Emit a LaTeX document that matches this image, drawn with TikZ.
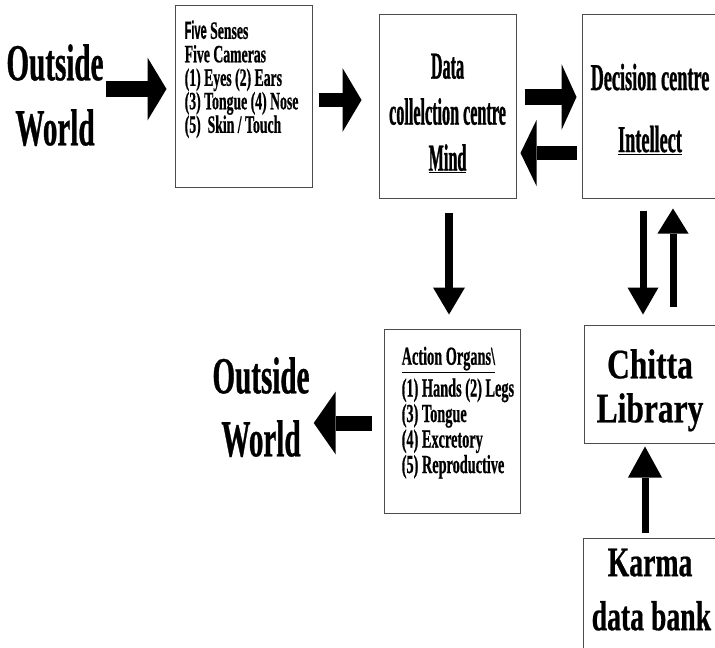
\documentclass[tikz,border=0pt]{standalone}
\usepackage{fontspec}
\setmainfont{Liberation Serif}
\newfontfamily\worldfont[FakeStretch=0.56, FakeBold=0.6]{Liberation Serif}
\newfontfamily\listfont[FakeStretch=0.55, FakeBold=0.6]{Liberation Serif}
\newfontfamily\listsans[FakeStretch=0.44, FakeBold=0.6]{Liberation Sans}
\newfontfamily\centrefont[FakeStretch=0.425, FakeBold=0.8]{Liberation Serif}
\newfontfamily\decisionfont[FakeStretch=0.48, FakeBold=0.8]{Liberation Serif}
\newfontfamily\chittafont[FakeStretch=0.75, FakeBold=0.5]{Liberation Serif}
\newfontfamily\karmafont[FakeStretch=0.66, FakeBold=0.5]{Liberation Serif}
\usetikzlibrary{positioning, arrows.meta, calc}
\tikzstyle{panel} = [rectangle, draw=black!70, line width=1pt, inner sep=0pt]
\tikzstyle{worldtext} = [inner sep=0pt, align=center, anchor=north, font=\worldfont\bfseries\fontsize{52}{65}\selectfont]
\tikzstyle{listtext} = [inner sep=0pt, align=left, font=\listfont\bfseries\fontsize{25}{23.5}\selectfont]
\tikzstyle{organtext} = [inner sep=0pt, align=left, font=\listfont\bfseries\fontsize{26}{25.5}\selectfont]
\tikzstyle{centretext} = [inner sep=0pt, align=center, font=\centrefont\bfseries\fontsize{38}{46}\selectfont]
\tikzstyle{chittatext} = [inner sep=0pt, align=center, font=\chittafont\bfseries\fontsize{42}{44}\selectfont]
\tikzstyle{karmatext} = [inner sep=0pt, align=left, font=\karmafont\bfseries\fontsize{42}{54}\selectfont]
\tikzset{block/.style n args={3}{line width=#1, -{Triangle[width=#2, length=#3, line width=0pt]}}}

\begin{document}
\begin{tikzpicture}[x=1pt, y=-1pt]
	\useasboundingbox (0,0) rectangle (715,648);
	
	\node (senses) [panel, minimum width=137pt, minimum height=182pt] at (243.5,96) {};
	\node (data) [panel, minimum width=137pt, minimum height=184pt] at (447.5,106) {};
	\node (decision) [panel, minimum width=138pt, minimum height=184pt] at (651,106) {};
	\node (action) [panel, minimum width=136pt, minimum height=184pt] at (452,421) {};
	\node (chitta) [panel, minimum width=136pt, minimum height=118pt] at (652,384) {};
	\node (karma) [panel, minimum width=137pt, minimum height=122pt] at (651.5,599) {};
	
	\node (outA) [worldtext] at (55,44) {Outside\\World};
	\node (outB) [worldtext] at (261,357) {Outside\\[-2pt]World};
	\node (sensesList) [listtext, below right=16pt and 10pt of senses.north west] {{\listsans\bfseries Five} Senses\\Five Cameras\\(1) Eyes (2) Ears\\(3) Tongue (4) Nose\\(5)\ \ Skin / Touch};
	\node (dataText) [centretext, below=40pt of data.north] {Data\\collelction centre\\\underline{Mind}};
	\node (decisionText) [centretext, font=\decisionfont\bfseries\fontsize{38}{46}\selectfont, below=50pt of decision.north, xshift=-1pt] {Decision centre\\[16pt]\underline{Intellect}};
	\node (organList) [organtext, below right=18pt and 18pt of action.north west] {\underline{Action Organs\textbackslash}\\[5pt](1) Hands (2) Legs\\(3) Tongue\\(4) Excretory\\(5) Reproductive};
	\node (chittaText) [chittatext, below=24.5pt of chitta.north, xshift=-2pt] {Chitta\\Library};
	\node (karmaText) [karmatext, below right=11pt and 9pt of karma.north west] {\hspace*{16pt}Karma\\data bank};
	
	\draw [block={16pt}{63pt}{19pt}] ($(outA.east |- senses.west)+(2pt,7pt)$) -- ($(senses.west)+(-8pt,7pt)$);
	\draw [block={14pt}{64pt}{19pt}] ($(senses.east)+(6pt,-4pt)$) -- ($(data.west)+(-17pt,6pt)$);
	\draw [block={16pt}{66pt}{15pt}] ($(data.east)+(8pt,9pt)$) -- ($(decision.west)+(-5pt,9pt)$);
	\draw [block={14pt}{66pt}{16pt}] ($(decision.west)+(-5pt,-47pt)$) -- ($(data.east)+(4pt,-47pt)$);
	\draw [block={15pt}{63pt}{22pt}] ($(action.west)+(-12pt,-2pt)$) -- ($(outB.east |- action.west)+(4pt,-2pt)$);
	\draw [block={8pt}{32pt}{27pt}] ($(data.south)+(1.5pt,-14pt)$) -- ($(action.north)+(-3pt,14pt)$);
	\draw [block={7pt}{31pt}{27pt}] ($(decision.south)+(-8pt,-12pt)$) -- ($(chitta.north)+(-9pt,10pt)$);
	\draw [block={7pt}{31pt}{25pt}] ($(chitta.north)+(21pt,18pt)$) -- ($(decision.south)+(22pt,-10pt)$);
	\draw [block={7pt}{34pt}{31pt}] ($(karma.north)+(-6.5pt,5pt)$) -- ($(chitta.south)+(-7pt,-3pt)$);
\end{tikzpicture}
\end{document}
